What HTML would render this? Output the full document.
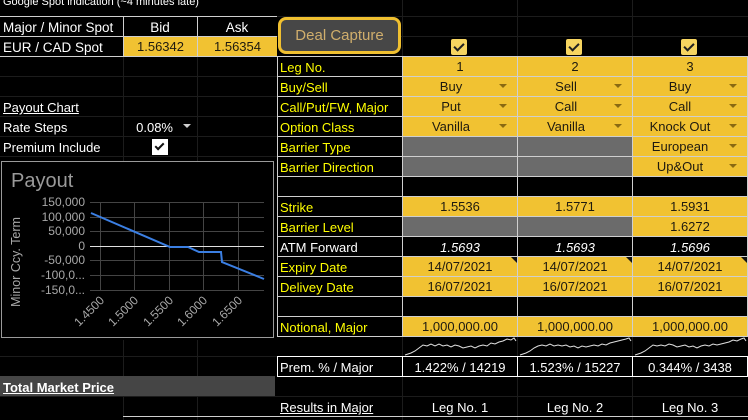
<!DOCTYPE html>
<html><head><meta charset="utf-8">
<style>
*{margin:0;padding:0;box-sizing:border-box}
body{width:748px;height:420px;background:#000;overflow:hidden;position:relative;font-family:"Liberation Sans",Arial,sans-serif;font-size:13px;color:#fff}
.a{position:absolute}
.t{position:absolute;line-height:20px;height:20px;white-space:nowrap;transform:translateY(1px)}
.y{color:#ffff00}
.c{text-align:center}
.yc{position:absolute;background:#f1c232;color:#1e1a10;text-align:center;line-height:20px;height:19px;white-space:nowrap}
.gc{position:absolute;background:#6b6b6b;height:19px}
.hl{position:absolute;height:1px}
.vl{position:absolute;width:1px}
.dd{position:absolute;width:0;height:0;border-left:4px solid transparent;border-right:4px solid transparent;border-top:4px solid #8a6a12}
.cb{position:absolute;width:16px;height:16px;background:#f7d560;border-radius:2px}
.cb:after{content:"";position:absolute;left:5px;top:2px;width:4px;height:8px;border-right:2px solid #222;border-bottom:2px solid #222;transform:rotate(45deg)}
.tri{position:absolute;width:0;height:0;border-left:6px solid transparent;border-top:6px solid #111}
</style></head><body>

<!-- faint grid lines -->
<div class="hl" style="left:0;top:76px;width:277px;background:#1c1c1c"></div>
<div class="hl" style="left:0;top:96px;width:277px;background:#1c1c1c"></div>
<div class="hl" style="left:0;top:116px;width:277px;background:#1c1c1c"></div>
<div class="hl" style="left:0;top:136px;width:277px;background:#1c1c1c"></div>
<div class="hl" style="left:0;top:156px;width:277px;background:#1c1c1c"></div>
<div class="hl" style="left:0;top:356px;width:277px;background:#1c1c1c"></div>
<div class="hl" style="left:0;top:396px;width:277px;background:#1c1c1c"></div>
<div class="vl" style="left:123px;top:56px;height:105px;background:#1c1c1c"></div>
<div class="vl" style="left:197px;top:56px;height:105px;background:#1c1c1c"></div>
<div class="vl" style="left:123px;top:340px;height:80px;background:#1c1c1c"></div>
<div class="vl" style="left:197px;top:340px;height:80px;background:#1c1c1c"></div>
<div class="hl" style="left:277px;top:16px;width:471px;background:#1c1c1c"></div>
<div class="hl" style="left:277px;top:36px;width:471px;background:#1c1c1c"></div>
<div class="vl" style="left:402px;top:0;height:56px;background:#1c1c1c"></div>
<div class="vl" style="left:517px;top:0;height:56px;background:#1c1c1c"></div>
<div class="vl" style="left:632px;top:0;height:56px;background:#1c1c1c"></div>
<div class="vl" style="left:402px;top:336px;height:84px;background:#1c1c1c"></div>
<div class="vl" style="left:517px;top:336px;height:84px;background:#1c1c1c"></div>
<div class="vl" style="left:632px;top:336px;height:84px;background:#1c1c1c"></div>
<div class="hl" style="left:277px;top:396px;width:471px;background:#1c1c1c"></div>

<!-- top text -->
<div class="a" style="left:3px;top:-4px;font-size:11px;line-height:13px;white-space:nowrap">Google Spot indication (~4 minutes late)</div>

<!-- left spot table -->
<div class="yc" style="left:124px;top:37px;width:73px">1.56342</div>
<div class="yc" style="left:198px;top:37px;width:79px">1.56354</div>
<div class="hl" style="left:0;top:16px;width:277px;background:#cfcfcf"></div>
<div class="hl" style="left:0;top:36px;width:277px;background:#cfcfcf"></div>
<div class="hl" style="left:0;top:56px;width:277px;background:#cfcfcf"></div>
<div class="vl" style="left:123px;top:16px;height:40px;background:#cfcfcf"></div>
<div class="vl" style="left:197px;top:16px;height:40px;background:#cfcfcf"></div>
<div class="t" style="left:3px;top:17px;font-size:13.5px">Major / Minor Spot</div>
<div class="t c" style="left:123px;top:17px;width:74px;font-size:13.5px">Bid</div>
<div class="t c" style="left:197px;top:17px;width:80px;font-size:13.5px">Ask</div>
<div class="t" style="left:3px;top:37px;font-size:13.5px">EUR / CAD Spot</div>

<div class="t" style="left:3px;top:97px;text-decoration:underline">Payout Chart</div>
<div class="t" style="left:3px;top:117px">Rate Steps</div>
<div class="t" style="left:120px;top:117px;width:53px;text-align:right">0.08%</div>
<div class="dd" style="left:183px;top:124px;border-top-color:#cfcfcf"></div>
<div class="t" style="left:3px;top:137px">Premium Include</div>
<div class="a" style="left:152px;top:139px;width:16px;height:16px;background:#fff"></div>
<div class="a" style="left:157px;top:141px;width:5px;height:9px;border-right:2px solid #111;border-bottom:2px solid #111;transform:rotate(45deg)"></div>

<!-- Total market price -->
<div class="a" style="left:0;top:376px;width:275px;height:20px;background:#454545"></div>
<div class="t" style="left:3px;top:377px;font-weight:bold;text-decoration:underline">Total Market Price</div>
<div class="hl" style="left:123px;top:416px;width:154px;background:#cfcfcf"></div>

<!-- chart -->
<svg class="a" style="left:0;top:0" width="748" height="420" xmlns="http://www.w3.org/2000/svg">
<rect x="1.5" y="161.5" width="272" height="176" fill="#000" stroke="#9a9a9a" stroke-width="1"/>
<g stroke="#444" stroke-width="1">
<line x1="90" y1="202.5" x2="264" y2="202.5"/>
<line x1="90" y1="217.5" x2="264" y2="217.5"/>
<line x1="90" y1="231.5" x2="264" y2="231.5"/>
<line x1="90" y1="260.5" x2="264" y2="260.5"/>
<line x1="90" y1="275.5" x2="264" y2="275.5"/>
<line x1="90" y1="290.5" x2="264" y2="290.5"/>
<line x1="100.5" y1="202" x2="100.5" y2="291"/>
<line x1="134.5" y1="202" x2="134.5" y2="291"/>
<line x1="169.5" y1="202" x2="169.5" y2="291"/>
<line x1="203.5" y1="202" x2="203.5" y2="291"/>
<line x1="238.5" y1="202" x2="238.5" y2="291"/>
</g>
<line x1="90" y1="246.5" x2="264" y2="246.5" stroke="#e0e0e0" stroke-width="1"/>
<polyline points="91,213 170,247 188,247 199,252 221,252 222,262 264,279" fill="none" stroke="#3b7fe3" stroke-width="2"/>
<text x="11" y="187" font-family="Liberation Sans,Arial,sans-serif" font-size="20" fill="#9a9a9a">Payout</text>
<g font-family="Liberation Sans,Arial,sans-serif" font-size="12" fill="#a8a8a8" text-anchor="end">
<text x="85" y="206">150,000</text>
<text x="85" y="221">100,000</text>
<text x="85" y="235">50,000</text>
<text x="85" y="250">0</text>
<text x="85" y="264">-50,000</text>
<text x="85" y="279">-100,0...</text>
<text x="85" y="294">-150,0...</text>
<text transform="translate(105,301) rotate(-45)">1.4500</text>
<text transform="translate(139,301) rotate(-45)">1.5000</text>
<text transform="translate(174,301) rotate(-45)">1.5500</text>
<text transform="translate(208,301) rotate(-45)">1.6000</text>
<text transform="translate(243,301) rotate(-45)">1.6500</text>
</g>
<text transform="translate(20,262) rotate(-90)" text-anchor="middle" font-family="Liberation Sans,Arial,sans-serif" font-size="12.5" fill="#a8a8a8">Minor Ccy. Term</text>

<!-- sparklines -->
<g fill="none" stroke="#e0e0e0" stroke-width="1">
<polyline transform="translate(403,336)" points="2,19 8,17 12,15 16,12 20,9 24,10 28,8 32,10 36,8 40,10 44,9 48,11 52,9 56,10 60,12 64,11 68,10 72,12 76,10 80,9 84,10 88,7 92,8 96,6 100,5 104,3 108,4 111,2 113,5"/>
<polyline transform="translate(518,336)" points="2,19 8,17 12,15 16,12 20,10 24,9 28,10 32,8 36,10 40,9 44,10 48,9 52,11 56,10 60,12 64,10 68,11 72,10 76,9 80,10 84,8 88,9 92,7 96,6 100,5 104,4 108,3 111,2 113,5"/>
<polyline transform="translate(633,336)" points="2,19 8,17 12,15 16,12 20,9 24,10 28,9 32,10 36,8 40,9 44,11 48,10 52,9 56,11 60,10 64,12 68,10 72,9 76,10 80,8 84,9 88,8 92,7 96,6 100,4 104,5 108,3 111,2 113,5"/>
</g>
</svg>

<!-- Deal capture button -->
<div class="a" style="left:278px;top:17px;width:123px;height:37px;border:3px solid #f0c030;border-radius:8px;background:#474747;color:#d0ae6c;font-size:15px;line-height:31px;text-align:center">Deal Capture</div>

<!-- checkboxes -->
<div class="cb" style="left:451px;top:39px"></div>
<div class="cb" style="left:566px;top:39px"></div>
<div class="cb" style="left:681px;top:39px"></div>

<!-- right table cells -->
<div class="yc" style="left:403px;top:57px;width:114px">1</div>
<div class="yc" style="left:518px;top:57px;width:114px">2</div>
<div class="yc" style="left:633px;top:57px;width:114px">3</div>
<div class="yc" style="left:403px;top:77px;width:114px;padding-right:18px">Buy</div>
<div class="yc" style="left:518px;top:77px;width:114px;padding-right:18px">Sell</div>
<div class="yc" style="left:633px;top:77px;width:114px;padding-right:20px">Buy</div>
<div class="yc" style="left:403px;top:97px;width:114px;padding-right:18px">Put</div>
<div class="yc" style="left:518px;top:97px;width:114px;padding-right:18px">Call</div>
<div class="yc" style="left:633px;top:97px;width:114px;padding-right:20px">Call</div>
<div class="yc" style="left:403px;top:117px;width:114px;padding-right:18px">Vanilla</div>
<div class="yc" style="left:518px;top:117px;width:114px;padding-right:18px">Vanilla</div>
<div class="yc" style="left:633px;top:117px;width:114px;padding-right:20px">Knock Out</div>
<div class="gc" style="left:403px;top:137px;width:114px"></div>
<div class="gc" style="left:518px;top:137px;width:114px"></div>
<div class="yc" style="left:633px;top:137px;width:114px;padding-right:20px">European</div>
<div class="gc" style="left:403px;top:157px;width:114px"></div>
<div class="gc" style="left:518px;top:157px;width:114px"></div>
<div class="yc" style="left:633px;top:157px;width:114px;padding-right:20px">Up&amp;Out</div>
<div class="yc" style="left:403px;top:197px;width:114px">1.5536</div>
<div class="yc" style="left:518px;top:197px;width:114px">1.5771</div>
<div class="yc" style="left:633px;top:197px;width:114px">1.5931</div>
<div class="gc" style="left:403px;top:217px;width:114px"></div>
<div class="gc" style="left:518px;top:217px;width:114px"></div>
<div class="yc" style="left:633px;top:217px;width:114px">1.6272</div>
<div class="t c" style="left:403px;top:237px;width:114px;font-style:italic">1.5693</div>
<div class="t c" style="left:518px;top:237px;width:114px;font-style:italic">1.5693</div>
<div class="t c" style="left:633px;top:237px;width:114px;font-style:italic">1.5696</div>
<div class="yc" style="left:403px;top:257px;width:114px">14/07/2021</div>
<div class="yc" style="left:518px;top:257px;width:114px">14/07/2021</div>
<div class="yc" style="left:633px;top:257px;width:114px">14/07/2021</div>
<div class="tri" style="left:511px;top:257px"></div>
<div class="tri" style="left:626px;top:257px"></div>
<div class="tri" style="left:741px;top:257px"></div>
<div class="yc" style="left:403px;top:277px;width:114px">16/07/2021</div>
<div class="yc" style="left:518px;top:277px;width:114px">16/07/2021</div>
<div class="yc" style="left:633px;top:277px;width:114px">16/07/2021</div>
<div class="yc" style="left:403px;top:317px;width:114px">1,000,000.00</div>
<div class="yc" style="left:518px;top:317px;width:114px">1,000,000.00</div>
<div class="yc" style="left:633px;top:317px;width:114px">1,000,000.00</div>

<!-- dropdown arrows -->
<div class="dd" style="left:499px;top:84px"></div><div class="dd" style="left:614px;top:84px"></div><div class="dd" style="left:729px;top:84px"></div>
<div class="dd" style="left:499px;top:104px"></div><div class="dd" style="left:614px;top:104px"></div><div class="dd" style="left:729px;top:104px"></div>
<div class="dd" style="left:499px;top:124px"></div><div class="dd" style="left:614px;top:124px"></div><div class="dd" style="left:729px;top:124px"></div>
<div class="dd" style="left:729px;top:144px"></div>
<div class="dd" style="left:729px;top:164px"></div>

<!-- right grid lines -->
<div class="hl" style="left:277px;top:56px;width:471px;background:#cfcfcf"></div>
<div class="hl" style="left:277px;top:76px;width:471px;background:#cfcfcf"></div>
<div class="hl" style="left:277px;top:96px;width:471px;background:#cfcfcf"></div>
<div class="hl" style="left:277px;top:116px;width:471px;background:#cfcfcf"></div>
<div class="hl" style="left:277px;top:136px;width:471px;background:#cfcfcf"></div>
<div class="hl" style="left:277px;top:156px;width:471px;background:#cfcfcf"></div>
<div class="hl" style="left:277px;top:176px;width:471px;background:#cfcfcf"></div>
<div class="hl" style="left:277px;top:196px;width:471px;background:#cfcfcf"></div>
<div class="hl" style="left:277px;top:216px;width:471px;background:#cfcfcf"></div>
<div class="hl" style="left:277px;top:236px;width:471px;background:#cfcfcf"></div>
<div class="hl" style="left:277px;top:256px;width:471px;background:#cfcfcf"></div>
<div class="hl" style="left:277px;top:276px;width:471px;background:#cfcfcf"></div>
<div class="hl" style="left:277px;top:296px;width:471px;background:#cfcfcf"></div>
<div class="hl" style="left:277px;top:316px;width:471px;background:#cfcfcf"></div>
<div class="hl" style="left:277px;top:336px;width:471px;background:#cfcfcf"></div>
<div class="vl" style="left:277px;top:56px;height:280px;background:#cfcfcf"></div>
<div class="vl" style="left:402px;top:56px;height:280px;background:#cfcfcf"></div>
<div class="vl" style="left:517px;top:56px;height:280px;background:#cfcfcf"></div>
<div class="vl" style="left:632px;top:56px;height:280px;background:#cfcfcf"></div>
<div class="vl" style="left:747px;top:56px;height:280px;background:#cfcfcf"></div>
<div class="hl" style="left:277px;top:356px;width:471px;background:#fff"></div>
<div class="hl" style="left:277px;top:376px;width:471px;background:#fff"></div>
<div class="vl" style="left:277px;top:356px;height:21px;background:#fff"></div>
<div class="vl" style="left:402px;top:356px;height:21px;background:#fff"></div>
<div class="vl" style="left:517px;top:356px;height:21px;background:#fff"></div>
<div class="vl" style="left:632px;top:356px;height:21px;background:#fff"></div>
<div class="vl" style="left:747px;top:356px;height:21px;background:#fff"></div>
<div class="hl" style="left:277px;top:416px;width:471px;background:#cfcfcf"></div>

<!-- right labels -->
<div class="t y" style="left:280px;top:57px">Leg No.</div>
<div class="t y" style="left:280px;top:77px">Buy/Sell</div>
<div class="t y" style="left:280px;top:97px">Call/Put/FW, Major</div>
<div class="t y" style="left:280px;top:117px">Option Class</div>
<div class="t y" style="left:280px;top:137px">Barrier Type</div>
<div class="t y" style="left:280px;top:157px">Barrier Direction</div>
<div class="t y" style="left:280px;top:197px">Strike</div>
<div class="t y" style="left:280px;top:217px">Barrier Level</div>
<div class="t" style="left:280px;top:237px">ATM Forward</div>
<div class="t y" style="left:280px;top:257px">Expiry Date</div>
<div class="t y" style="left:280px;top:277px">Delivey Date</div>
<div class="t y" style="left:280px;top:317px">Notional, Major</div>
<div class="t" style="left:280px;top:357px">Prem. % / Major</div>
<div class="t c" style="left:403px;top:357px;width:114px">1.422% / 14219</div>
<div class="t c" style="left:518px;top:357px;width:114px">1.523% / 15227</div>
<div class="t c" style="left:633px;top:357px;width:114px">0.344% / 3438</div>
<div class="t" style="left:280px;top:397px;text-decoration:underline">Results in Major</div>
<div class="t c" style="left:403px;top:397px;width:114px">Leg No. 1</div>
<div class="t c" style="left:518px;top:397px;width:114px">Leg No. 2</div>
<div class="t c" style="left:633px;top:397px;width:114px">Leg No. 3</div>

</body></html>
